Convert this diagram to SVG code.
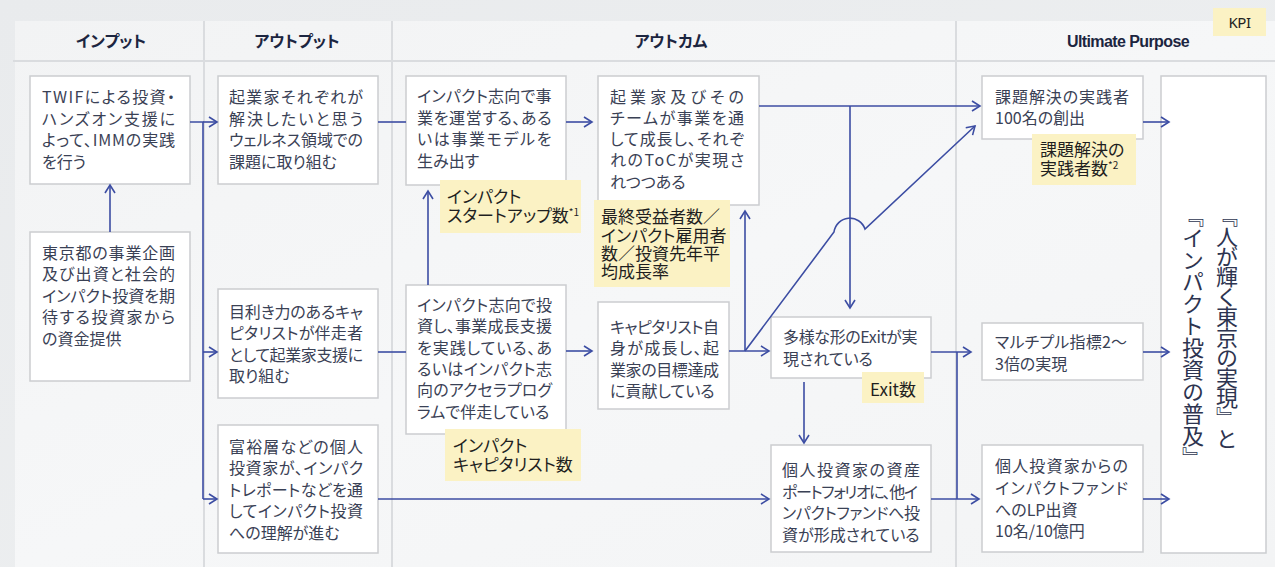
<svg xmlns="http://www.w3.org/2000/svg" width="1275" height="567" viewBox="0 0 1275 567">
<defs>
<linearGradient id="bg" x1="0" y1="0" x2="1" y2="1">
<stop offset="0" stop-color="#e9ebed"/><stop offset="1" stop-color="#eef0f1"/>
</linearGradient>
<linearGradient id="pn" x1="0" y1="0" x2="1" y2="1">
<stop offset="0" stop-color="#f2f3f4"/><stop offset="0.5" stop-color="#f6f7f8"/><stop offset="1" stop-color="#f3f4f5"/>
</linearGradient>
<marker id="a" markerWidth="11" markerHeight="12" refX="9" refY="6" orient="auto" markerUnits="userSpaceOnUse">
<path d="M1,1 L9,6 L1,11" fill="none" stroke="#3c4da3" stroke-width="1.6"/>
</marker>
<style>
.box{fill:#fff;stroke:#cbcdd0;stroke-width:1.5}
.kpi{fill:#fbf2c4}
.t{font-family:"Noto Sans CJK JP","Noto Sans",sans-serif;font-size:16px;fill:#3a4155;font-feature-settings:"palt"}
.k{font-family:"Noto Sans CJK JP","Noto Sans",sans-serif;font-size:17px;fill:#1f1f1f;font-feature-settings:"palt"}
.h{font-family:"Noto Sans CJK JP","Noto Sans",sans-serif;font-size:16px;font-weight:bold;fill:#1c2540;text-anchor:middle;font-feature-settings:"palt"}
.v{font-family:"Noto Sans CJK JP",sans-serif;font-size:22px;fill:#2d3450;writing-mode:vertical-rl}
.c{stroke:#3c4da3;stroke-width:1.6;fill:none}
.sup{font-size:10px}
.div{stroke:#dadcdf;stroke-width:2}
</style>
</defs>
<rect width="1275" height="567" fill="url(#bg)"/>
<rect x="15" y="21" width="1260" height="546" fill="url(#pn)"/>
<g id="grid">
<line class="div" x1="13" y1="61" x2="1275" y2="61"/>
<line class="div" x1="204" y1="21" x2="204" y2="567"/>
<line class="div" x1="392" y1="21" x2="392" y2="567"/>
<line class="div" x1="956" y1="21" x2="956" y2="567"/>
</g>
<g id="headers">
<text class="h" x="111" y="47">インプット</text>
<text class="h" x="297" y="47">アウトプット</text>
<text class="h" x="671" y="47">アウトカム</text>
<text class="h" x="1128" y="47" style="font-family:'Liberation Sans',sans-serif;letter-spacing:-0.6px">Ultimate Purpose</text>
</g>
<g id="legend">
<rect class="kpi" x="1213" y="8" width="53" height="28"/>
<text x="1239.5" y="27.5" style="font-family:'Noto Sans',sans-serif;font-size:15px;fill:#222;text-anchor:middle;letter-spacing:-0.5px">KPI</text>
</g>

<g id="n1">
<rect class="box" x="30" y="76" width="160" height="108"/>
<text class="t" x="42" y="103" textLength="133" lengthAdjust="spacing">TWIFによる投資・</text>
<text class="t" x="42" y="124.5" textLength="133" lengthAdjust="spacing">ハンズオン支援に</text>
<text class="t" x="42" y="146" textLength="133" lengthAdjust="spacing">よって、IMMの実践</text>
<text class="t" x="42" y="167.5">を行う</text>
</g>
<g id="n2">
<rect class="box" x="30" y="232" width="160" height="149"/>
<text class="t" x="42" y="258.5" textLength="133" lengthAdjust="spacing">東京都の事業企画</text>
<text class="t" x="42" y="280" textLength="133" lengthAdjust="spacing">及び出資と社会的</text>
<text class="t" x="42" y="301.5" textLength="133" lengthAdjust="spacing">インパクト投資を期</text>
<text class="t" x="42" y="323" textLength="133" lengthAdjust="spacing">待する投資家から</text>
<text class="t" x="42" y="344.5">の資金提供</text>
</g>
<g id="n3">
<rect class="box" x="218" y="76" width="160" height="108"/>
<text class="t" x="229" y="103" textLength="134" lengthAdjust="spacing">起業家それぞれが</text>
<text class="t" x="229" y="124.5" textLength="134" lengthAdjust="spacing">解決したいと思う</text>
<text class="t" x="229" y="146" textLength="134" lengthAdjust="spacing">ウェルネス領域での</text>
<text class="t" x="229" y="167.5">課題に取り組む</text>
</g>
<g id="n4">
<rect class="box" x="218" y="289" width="160" height="109"/>
<text class="t" x="229" y="317.5" textLength="134" lengthAdjust="spacing">目利き力のあるキャ</text>
<text class="t" x="229" y="339" textLength="134" lengthAdjust="spacing">ピタリストが伴走者</text>
<text class="t" x="229" y="360.5" textLength="134" lengthAdjust="spacing">として起業家支援に</text>
<text class="t" x="229" y="382">取り組む</text>
</g>
<g id="n5">
<rect class="box" x="218" y="425" width="160" height="128"/>
<text class="t" x="229" y="452.5" textLength="134" lengthAdjust="spacing">富裕層などの個人</text>
<text class="t" x="229" y="474" textLength="134" lengthAdjust="spacing">投資家が、インパク</text>
<text class="t" x="229" y="495.5" textLength="134" lengthAdjust="spacing">トレポートなどを通</text>
<text class="t" x="229" y="517" textLength="134" lengthAdjust="spacing">してインパクト投資</text>
<text class="t" x="229" y="538.5">への理解が進む</text>
</g>
<g id="n6">
<rect class="box" x="406" y="76" width="160" height="109"/>
<text class="t" x="417" y="102" textLength="134.5" lengthAdjust="spacing">インパクト志向で事</text>
<text class="t" x="417" y="123.5" textLength="134.5" lengthAdjust="spacing">業を運営する、ある</text>
<text class="t" x="417" y="145" textLength="134.5" lengthAdjust="spacing">いは事業モデルを</text>
<text class="t" x="417" y="166.5">生み出す</text>
</g>
<g id="n7">
<rect class="box" x="406" y="285" width="160" height="149"/>
<text class="t" x="417" y="311" textLength="135" lengthAdjust="spacing">インパクト志向で投</text>
<text class="t" x="417" y="332.3" textLength="135" lengthAdjust="spacing">資し、事業成長支援</text>
<text class="t" x="417" y="353.6" textLength="135" lengthAdjust="spacing">を実践している、あ</text>
<text class="t" x="417" y="374.9" textLength="135" lengthAdjust="spacing">るいはインパクト志</text>
<text class="t" x="417" y="396.2" textLength="135" lengthAdjust="spacing">向のアクセラプログ</text>
<text class="t" x="417" y="417.5">ラムで伴走している</text>
</g>
<g id="n8">
<rect class="box" x="598" y="76" width="161" height="129"/>
<text class="t" x="610" y="102.5" textLength="134" lengthAdjust="spacing">起業家及びその</text>
<text class="t" x="610" y="123.8" textLength="134" lengthAdjust="spacing">チームが事業を通</text>
<text class="t" x="610" y="145" textLength="134" lengthAdjust="spacing">して成長し、それぞ</text>
<text class="t" x="610" y="166.3" textLength="134" lengthAdjust="spacing">れのToCが実現さ</text>
<text class="t" x="610" y="187.5">れつつある</text>
</g>
<g id="n9">
<rect class="box" x="598" y="302" width="131" height="107"/>
<text class="t" x="610" y="332.5" textLength="109" lengthAdjust="spacing">キャピタリスト自</text>
<text class="t" x="610" y="354" textLength="109" lengthAdjust="spacing">身が成長し、起</text>
<text class="t" x="610" y="375.5" textLength="109" lengthAdjust="spacing">業家の目標達成</text>
<text class="t" x="610" y="397">に貢献している</text>
</g>
<g id="n10">
<rect class="box" x="771" y="317" width="160" height="61"/>
<text class="t" x="783" y="343.3" textLength="134.5" lengthAdjust="spacing">多様な形のExitが実</text>
<text class="t" x="783" y="365">現されている</text>
</g>
<g id="n12">
<rect class="box" x="771" y="445" width="160" height="107"/>
<text class="t" x="782" y="476" textLength="138" lengthAdjust="spacing">個人投資家の資産</text>
<text class="t" x="782" y="497.5" textLength="136" lengthAdjust="spacing">ポートフォリオに、他イ</text>
<text class="t" x="782" y="519" textLength="138" lengthAdjust="spacing">ンパクトファンドへ投</text>
<text class="t" x="782" y="540.5">資が形成されている</text>
</g>
<g id="n11">
<rect class="box" x="982" y="76" width="161" height="63"/>
<text class="t" x="995" y="102.5" textLength="134" lengthAdjust="spacing">課題解決の実践者</text>
<text class="t" x="995" y="124">100名の創出</text>
</g>
<g id="n13">
<rect class="box" x="982" y="323" width="161" height="57"/>
<text class="t" x="995" y="348.3" textLength="132" lengthAdjust="spacing">マルチプル指標2～</text>
<text class="t" x="995" y="369.6">3倍の実現</text>
</g>
<g id="n14">
<rect class="box" x="982" y="445" width="161" height="107"/>
<text class="t" x="995" y="471.7" textLength="133" lengthAdjust="spacing">個人投資家からの</text>
<text class="t" x="995" y="494.3" textLength="133" lengthAdjust="spacing">インパクトファンド</text>
<text class="t" x="995" y="516">へのLP出資</text>
<text class="t" x="995" y="537">10名/10億円</text>
</g>
<g id="n15">
<rect class="box" x="1161" y="76" width="105" height="477"/>
<text class="v" x="1227" y="205" style="letter-spacing:-1.8px">『人が輝く東京の実現』と</text>
<text class="v" x="1193" y="205">『インパクト投資の普及』</text>
</g>

<g id="connectors">
<path class="c" d="M110,232 V185" marker-end="url(#a)"/>
<path class="c" d="M190,122 H203 V499"/>
<path class="c" d="M203,122 H217" marker-end="url(#a)"/>
<path class="c" d="M203,352 H217" marker-end="url(#a)"/>
<path class="c" d="M203,499 H217" marker-end="url(#a)"/>
<path class="c" d="M378,122 H406"/>
<path class="c" d="M378,352 H406"/>
<path class="c" d="M378,499 H769" marker-end="url(#a)"/>
<path class="c" d="M428,285 V191" marker-end="url(#a)"/>
<path class="c" d="M566,122 H592" marker-end="url(#a)"/>
<path class="c" d="M566,351 H592" marker-end="url(#a)"/>
<path class="c" d="M729,351 H769" marker-end="url(#a)"/>
<path class="c" d="M745,351 V211" marker-end="url(#a)"/>
<path class="c" d="M745,351 L834,232 A16,16 0 0 1 865,229 L975,126" marker-end="url(#a)"/>
<path class="c" d="M759,106 H980" marker-end="url(#a)"/>
<path class="c" d="M850,106 V308" marker-end="url(#a)"/>
<path class="c" d="M804,382 V443" marker-end="url(#a)"/>
<path class="c" d="M931,352 H971" marker-end="url(#a)"/>
<path class="c" d="M957,352 V499"/>
<path class="c" d="M931,499 H979" marker-end="url(#a)"/>
<path class="c" d="M1143,122 H1169" marker-end="url(#a)"/>
<path class="c" d="M1143,352 H1169" marker-end="url(#a)"/>
<path class="c" d="M1143,499 H1169" marker-end="url(#a)"/>
</g>

<g id="kpi1">
<rect class="kpi" x="440" y="180" width="141" height="53"/>
<text class="k" x="447" y="203">インパクト</text>
<text class="k" x="447" y="221.5">スタートアップ数<tspan class="sup" dy="-6">*1</tspan></text>
</g>
<g id="kpi2">
<rect class="kpi" x="445" y="429" width="136" height="52"/>
<text class="k" x="453" y="451.5">インパクト</text>
<text class="k" x="453" y="470.8">キャピタリスト数</text>
</g>
<g id="kpi3">
<rect class="kpi" x="594" y="200" width="136" height="87"/>
<text class="k" x="601" y="223">最終受益者数／</text>
<text class="k" x="601" y="242">インパクト雇用者</text>
<text class="k" x="601" y="260">数／投資先年平</text>
<text class="k" x="601" y="278">均成長率</text>
</g>
<g id="kpi4">
<rect class="kpi" x="862" y="372" width="62" height="31"/>
<text class="k" x="870" y="395.5">Exit数</text>
</g>
<g id="kpi5">
<rect class="kpi" x="1032" y="134" width="104" height="51"/>
<text class="k" x="1040" y="155.5">課題解決の</text>
<text class="k" x="1040" y="174.5">実践者数<tspan class="sup" dy="-6">*2</tspan></text>
</g>
</svg>
